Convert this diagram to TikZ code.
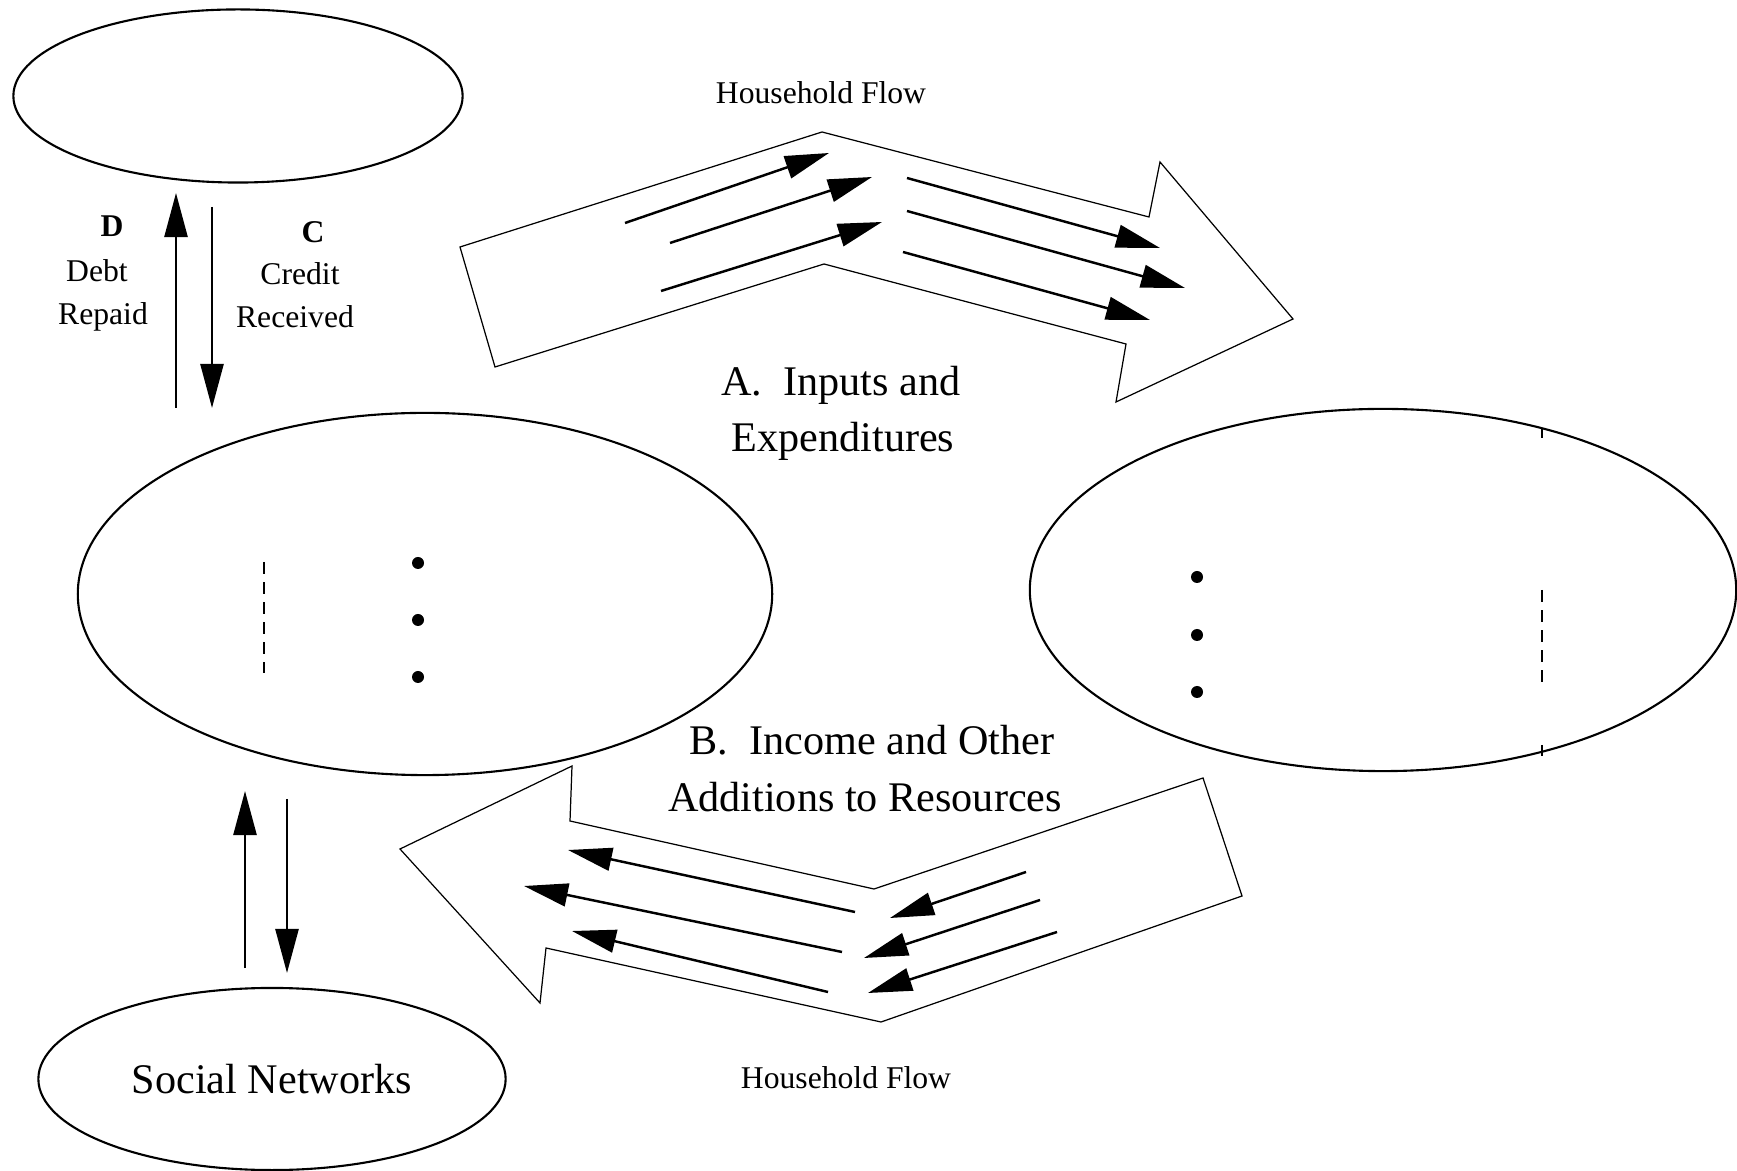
\documentclass[tikz,border=0pt]{standalone}
\usepackage{fontspec}
\setmainfont{Liberation Serif}
\usetikzlibrary{shapes.geometric}
\usetikzlibrary{arrows.meta}

\tikzset{
  blob/.style={draw, ellipse, line width=0.6pt, inner sep=0pt},
  flowarr/.style={-{Triangle[length=4.4mm,width=2.3mm]}, line width=0.7pt},
  bigflow/.style={draw, line width=0.35pt, line join=miter},
  sidelbl/.style={font=\fontsize{9}{11}\selectfont, anchor=base, inner sep=0pt},
  flowlbl/.style={font=\fontsize{12}{14}\selectfont, anchor=base, inner sep=0pt},
  dashmark/.style={line width=0.8pt, dash pattern=on 0.12cm off 0.08cm}
}

\begin{document}
\begin{tikzpicture}[x=0.01cm, y=-0.01cm]
\useasboundingbox (0,0) rectangle (1737,1171);

% the four ellipses
\node[blob, minimum width=4.49cm, minimum height=1.73cm] (lender) at (238,96) {};
\node[blob, minimum width=6.94cm, minimum height=3.62cm] (house) at (425,594) {};
\node[blob, minimum width=7.06cm, minimum height=3.62cm] (market) at (1383,590) {};
\node[blob, minimum width=4.67cm, minimum height=1.82cm,
      font=\fontsize{12}{14}\selectfont] (social) at (272,1079) {Social Networks};

% inside the household
\draw[dashmark] (264,562) -- (264,673);
\fill (418,563) circle (6);
\fill (418,620) circle (6);
\fill (418,677) circle (6);

% inside the market
\draw[dashmark] (1542,590) -- (1542,682);
\draw[line width=0.8pt] (1542,428) -- (1542,438);
\draw[line width=0.8pt] (1542,745) -- (1542,756);
\fill (1197,577) circle (6);
\fill (1197,635) circle (6);
\fill (1197,692) circle (6);

% credit and debt
\coordinate (dr0) at (176,408);
\coordinate (dr1) at (176,193);
\coordinate (cr0) at (212,207);
\coordinate (cr1) at (212,408);
\draw[flowarr] (dr0) -- (dr1);
\draw[flowarr] (cr0) -- (cr1);
\node[sidelbl, font=\fontsize{9}{11}\selectfont\bfseries] (dlet) at (112,237) {D};
\node[sidelbl] (debt) at (97,282) {Debt};
\node[sidelbl] (repaid) at (103,325) {Repaid};
\node[sidelbl, font=\fontsize{9}{11}\selectfont\bfseries] (clet) at (313,243) {C};
\node[sidelbl] (credit) at (300,285) {Credit};
\node[sidelbl] (received) at (295,328) {Received};

% social networks
\coordinate (sn0) at (245,968);
\coordinate (sn1) at (245,791);
\coordinate (sn2) at (287,799);
\coordinate (sn3) at (287,973);
\draw[flowarr] (sn0) -- (sn1);
\draw[flowarr] (sn2) -- (sn3);

% flow A
\draw[bigflow] (460,247) -- (822,132) -- (1149,217) -- (1160,162) -- (1293,319)
  -- (1116,402) -- (1126,344) -- (824,264) -- (495,367) -- cycle;
\draw[flowarr] (625,223) -- (829,153);
\draw[flowarr] (670,243) -- (872,177);
\draw[flowarr] (661,291) -- (882,222);
\draw[flowarr] (907,178) -- (1160,248);
\draw[flowarr] (907,211) -- (1185,288);
\draw[flowarr] (903,252) -- (1150,320);
\node[sidelbl] (hfa) at (821,104) {Household Flow};
\node[flowlbl] (inA1) at (841,396) {A.\ \ Inputs and};
\node[flowlbl] (inA2) at (843,452) {Expenditures};

% flow B
\draw[bigflow] (400,849) -- (572,766) -- (570,821) -- (874,889) -- (1203,778)
  -- (1242,896) -- (881,1022) -- (546,948) -- (540,1003) -- cycle;
\draw[flowarr] (855,912) -- (568,850);
\draw[flowarr] (842,952) -- (524,886);
\draw[flowarr] (828,992) -- (572,931);
\draw[flowarr] (1026,872) -- (890,918);
\draw[flowarr] (1040,900) -- (864,958);
\draw[flowarr] (1057,932) -- (868,993);
\node[sidelbl] (hfb) at (846,1088) {Household Flow};
\node[flowlbl] (inB1) at (872,755) {B.\ \ Income and Other};
\node[flowlbl] (inB2) at (865,812) {Additions to Resources};
\end{tikzpicture}
\end{document}
